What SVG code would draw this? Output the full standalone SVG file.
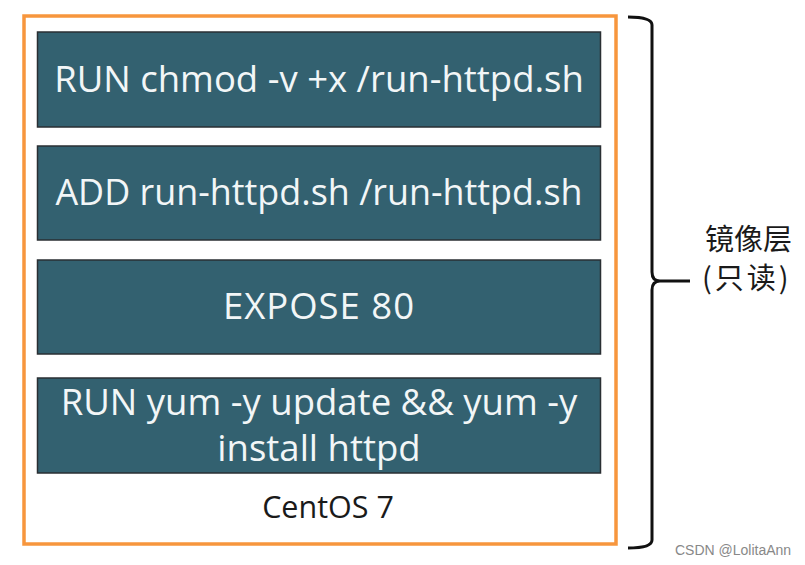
<svg xmlns="http://www.w3.org/2000/svg" width="805" height="565" viewBox="0 0 805 565">
<style>
.layer rect{fill:#336170;stroke:#2a2f33;stroke-width:1.5}
.lt{font-family:"Open Sans","Liberation Sans",sans-serif;font-size:36.5px;fill:#f2f6f7;text-anchor:middle}
.cjk{font-family:"Noto Sans CJK SC","Liberation Sans",sans-serif;font-size:29px;fill:#1a1a1a}
</style>
<rect width="805" height="565" fill="#ffffff"/>
<g id="container">
<rect x="24" y="16" width="592" height="528" fill="#ffffff" stroke="#f7963d" stroke-width="3.5"/>
</g>
<g id="layer1" class="layer"><rect x="37.5" y="32" width="563" height="95"/><text class="lt" x="319" y="92">RUN chmod -v +x /run-httpd.sh</text></g>
<g id="layer2" class="layer"><rect x="37.5" y="146" width="563" height="94"/><text class="lt" x="319" y="205" style="font-size:35.9px">ADD run-httpd.sh /run-httpd.sh</text></g>
<g id="layer3" class="layer"><rect x="37.5" y="260" width="563" height="94"/><text class="lt" x="319" y="319" letter-spacing="1">EXPOSE 80</text></g>
<g id="layer4" class="layer"><rect x="37.5" y="378" width="563" height="95"/><text class="lt" x="319" y="415">RUN yum -y update &amp;&amp; yum -y</text><text class="lt" x="319" y="461">install httpd</text></g>
<g id="base"><text x="328" y="518" font-family="Open Sans,Liberation Sans,sans-serif" font-size="30.5" fill="#1a1a1a" text-anchor="middle">CentOS 7</text></g>
<g id="connectors">
<path d="M628 17 Q652 17 652 25 V272 Q652 281 660 281 H690 M660 281 Q652 281 652 290 V540 Q652 548 628 548" fill="none" stroke="#111" stroke-width="3"/>
</g>
<g id="label"><text class="cjk" x="705" y="250">镜像层</text><text class="cjk" x="702" y="289" letter-spacing="3">(只读)</text></g>
<text x="675" y="555" font-family="Liberation Sans,sans-serif" font-size="14" fill="#888">CSDN @LolitaAnn</text>
</svg>
